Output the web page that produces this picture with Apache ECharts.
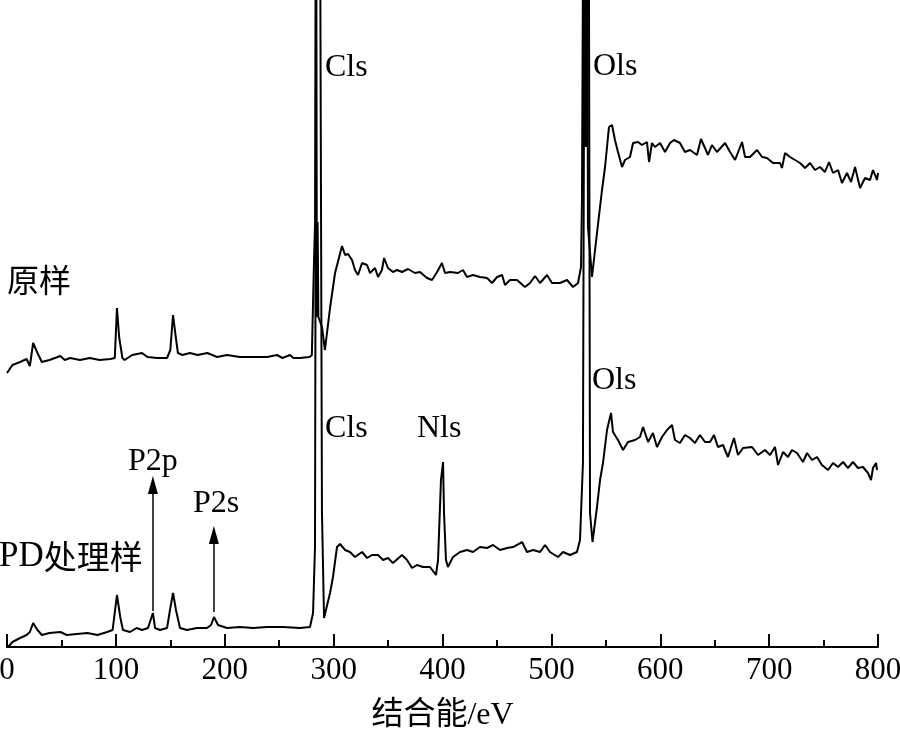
<!DOCTYPE html>
<html>
<head>
<meta charset="utf-8">
<script src="https://cdn.jsdelivr.net/npm/echarts@6/dist/echarts.min.js"></script>
<style>
html,body{margin:0;padding:0;background:#fff;}
#chart{width:900px;height:735px;}
</style>
</head>
<body>
<div id="chart"></div>
<script>
// Binding energy (eV) axis ticks
var xTicks = [0, 100, 200, 300, 400, 500, 600, 700, 800];

// 原样 (raw sample) – binding energy / eV
var rawX = [0,5,12,18,21,24,28,32,39,49,53,58,67,76,85,95,99,101,103,106,108,115,124,129,138,147,150,152.5,155,157,161,168,175,184,193,202,214,226,239,248,253,260,263,269,278,280,282,283,283.8,284.6,285.3,286,287.5,289.3,292,
296.7,301.3,307.7,310.5,313.2,316.9,319.6,322.4,326.1,330.7,333.4,338,340.8,344.4,346.3,349.9,354.5,358.2,362.8,368.3,374.7,379.3,385.8,390.4,395,399.5,402.3,406.9,414.2,418.8,422.5,428,434.4,440.9,445.5,450.1,454.7,457.4,462,468.4,475.8,480.4,485,489.6,496,500.6,507.9,514.4,519.9,524.5,527.2,528.1,529.9,530.6,531.3,532,532.7,533.6,537.3,
541.9,546.5,549.3,552.9,555.7,558.4,561.2,564.9,567.6,572.2,575,579.6,583.2,587.8,589.7,592.4,595.2,599.8,604.4,609,612.6,618.1,622.7,627.3,633.8,637.4,641.1,643.8,647.5,652.1,659.5,664.1,668.7,675.1,677.9,682.4,688.9,693.5,698,703.6,710,711.8,714.6,719.2,723.8,728.4,733,737.6,742.1,746.7,751.3,755,758.7,763.3,766.9,771.5,775.2,778.9,783.5,788.1,792.7,795.4,799.1,800];
// 原样 intensity (a.u.)
var rawY = [274,282,285,288,281,304,294,285,287,291,287,289,287,289,287,288,289,339,310,289,287,292,294,290,289,289,297,332,310,294,292,294,292,294,290,292,290,290,290,292,289,292,289,289,290,292,387,425,900,330,425,330,330,320,297,
339,374,401,392,393,387,377,372,384,382,374,379,370,377,389,379,375,377,375,378,374,375,369,367,375,384,374,375,374,377,370,372,370,369,364,370,372,362,367,367,360,364,371,364,372,364,364,367,360,364,380,447,900,500,900,500,900,420,370,
414,457,480,520,522,507,495,480,487,490,504,505,502,505,485,504,500,504,495,504,507,504,495,497,492,508,499,492,502,495,504,495,487,505,490,490,497,490,489,484,484,479,494,490,487,484,479,484,477,480,475,485,474,477,464,474,465,480,459,469,467,477,467,474];

// PD处理样 (PD-treated sample) – binding energy / eV
var pdX = [1,5,12,18,21,24,28,32,39,49,55,64,74,83,92,97,101,104,106.5,113,119,124,129.5,134,136,140.5,147,149.7,152.5,155.2,158.9,165.3,174.5,183.7,187.4,190.1,193.8,202.1,214,225.9,238.8,253.5,269.1,278.3,281.1,282.9,284.3,287.1,289.3,291.2,
296.7,299.4,303.1,305.9,310.5,315,319.6,326.1,330.7,335.3,340.8,345.4,349.9,354.5,362.8,367.4,372,376.6,382.1,388.5,394,395.9,398.6,400.5,401.4,403.2,405,409.6,416.1,422.5,428,434.4,440.9,446.4,452.8,459.3,464.8,473.1,477.6,483.2,489.6,494.2,498.7,506.1,510.7,517.1,523.5,526.3,529,530.9,534.1,535.5,537.8,
541.9,544.7,547.4,551.1,554.8,556.6,561.2,565.8,570.4,576.8,581.4,584.2,588.8,593.3,597,601.6,606.2,610.8,613.5,618.1,622.7,627.3,631.9,636.5,641.1,645.7,649.4,653,657.6,662.2,667.7,671.4,676,684.3,689.8,696.2,700.8,705.4,708.2,712.8,717.3,721,725.6,731.1,734.8,739.4,744,748.5,754.1,758.7,763.3,767.9,772.4,777,781.6,786.2,790.8,793.6,795.4,798.2,799.1];
// PD处理样 intensity (a.u.)
var pdY = [0,5,9,12,15,24,17,12,14,15,12,13,14,12,15,17,52,30,17,15,19,17,19,34,19,17,19,37,54,37,19,17,19,19,22,30,22,19,20,19,20,20,19,20,34,100,900,900,134,29,
54,70,100,103,97,95,90,95,89,92,92,87,89,84,92,87,79,82,80,80,72,87,167,185,134,87,80,90,95,97,95,100,99,102,97,99,100,105,95,97,95,102,95,90,95,92,95,107,184,900,900,134,105,
140,167,184,217,234,215,207,197,205,207,210,220,205,214,200,210,217,222,207,204,212,209,204,212,205,205,212,200,202,190,209,192,199,200,192,197,192,200,182,195,190,197,194,185,194,187,190,182,177,184,180,185,179,185,179,180,174,167,179,184,177];

// Peak annotations
var peakLabels = ['Cls', 'Ols', 'Cls', 'Nls', 'Ols', 'P2p', 'P2s'];
var sampleNames = ['原样', 'PD处理样'];
// Arrow markers (binding energy, from intensity, to intensity)
var arrowX = [134, 190];
var arrowFrom = [36, 35];
var arrowTo = [162, 112];

function zip(a, b) { return a.map(function (v, i) { return [v, b[i]]; }); }

var serif = '"Liberation Serif", "Times New Roman", serif';
var cjk = '"Noto Sans CJK SC", sans-serif';
var mixed = '"Liberation Serif", "Noto Sans CJK SC", serif';

var chart = echarts.init(document.getElementById('chart'), null, {renderer: 'canvas'});

var arrowData = arrowX.map(function (x, i) {
  return [{coord: [x, arrowFrom[i]]}, {coord: [x, arrowTo[i]]}];
});

function txt(text, x, y) {
  return {
    type: 'text', left: x, top: y, silent: true,
    style: {text: text, fill: '#000', font: '32px ' + serif}
  };
}

var option = {
  backgroundColor: '#fff',
  animation: false,
  grid: {left: 7, right: 22, top: 0, bottom: 88, containLabel: false, outerBoundsMode: 'none'},
  xAxis: {
    type: 'value', min: 0, max: 800, interval: 100,
    name: '结合能/eV', nameLocation: 'middle', nameGap: 53,
    nameTextStyle: {color: '#000', fontSize: 32, fontFamily: mixed},
    axisLine: {show: true, onZero: false, lineStyle: {color: '#000', width: 2}},
    axisTick: {show: true, inside: true, length: 13, lineStyle: {color: '#000', width: 2}},
    minorTick: {show: true, splitNumber: 2, length: 7, lineStyle: {color: '#000', width: 2}},
    axisLabel: {color: '#000', fontSize: 31, fontFamily: serif, margin: 8, hideOverlap: false, showMinLabel: true, showMaxLabel: true},
    splitLine: {show: false},
    minorSplitLine: {show: false}
  },
  yAxis: {type: 'value', min: 0, max: 647, show: false},
  series: [
    {
      name: sampleNames[0], type: 'line', data: zip(rawX, rawY),
      showSymbol: false, symbol: 'none', clip: true,
      lineStyle: {color: '#000', width: 2}
    },
    {
      name: sampleNames[1], type: 'line', data: zip(pdX, pdY),
      showSymbol: false, symbol: 'none', clip: true,
      lineStyle: {color: '#000', width: 2},
      markLine: {
        silent: true, symbol: ['none', 'triangle'], symbolSize: [10, 18],
        label: {show: false},
        lineStyle: {color: '#000', width: 1.5, type: 'solid'},
        data: arrowData
      }
    }
  ],
  graphic: [
    txt(peakLabels[0], 325, 52),
    txt(peakLabels[1], 593, 51),
    {
      type: 'text', left: 7, top: 264, silent: true,
      style: {text: sampleNames[0], fill: '#000', font: '32px ' + cjk}
    },
    txt(peakLabels[2], 325, 413),
    txt(peakLabels[3], 417, 413),
    txt(peakLabels[4], 592, 365),
    txt(peakLabels[5], 128, 446),
    txt(peakLabels[6], 193, 488),
    {
      type: 'text', left: -1, top: 539, silent: true,
      style: {
        text: '{a|PD}{b|处理样}',
        rich: {
          a: {fontSize: 35, fontFamily: serif, fill: '#000', color: '#000'},
          b: {fontSize: 33, fontFamily: cjk, fill: '#000', color: '#000'}
        }
      }
    }
  ]
};
chart.setOption(option);
</script>
</body>
</html>
